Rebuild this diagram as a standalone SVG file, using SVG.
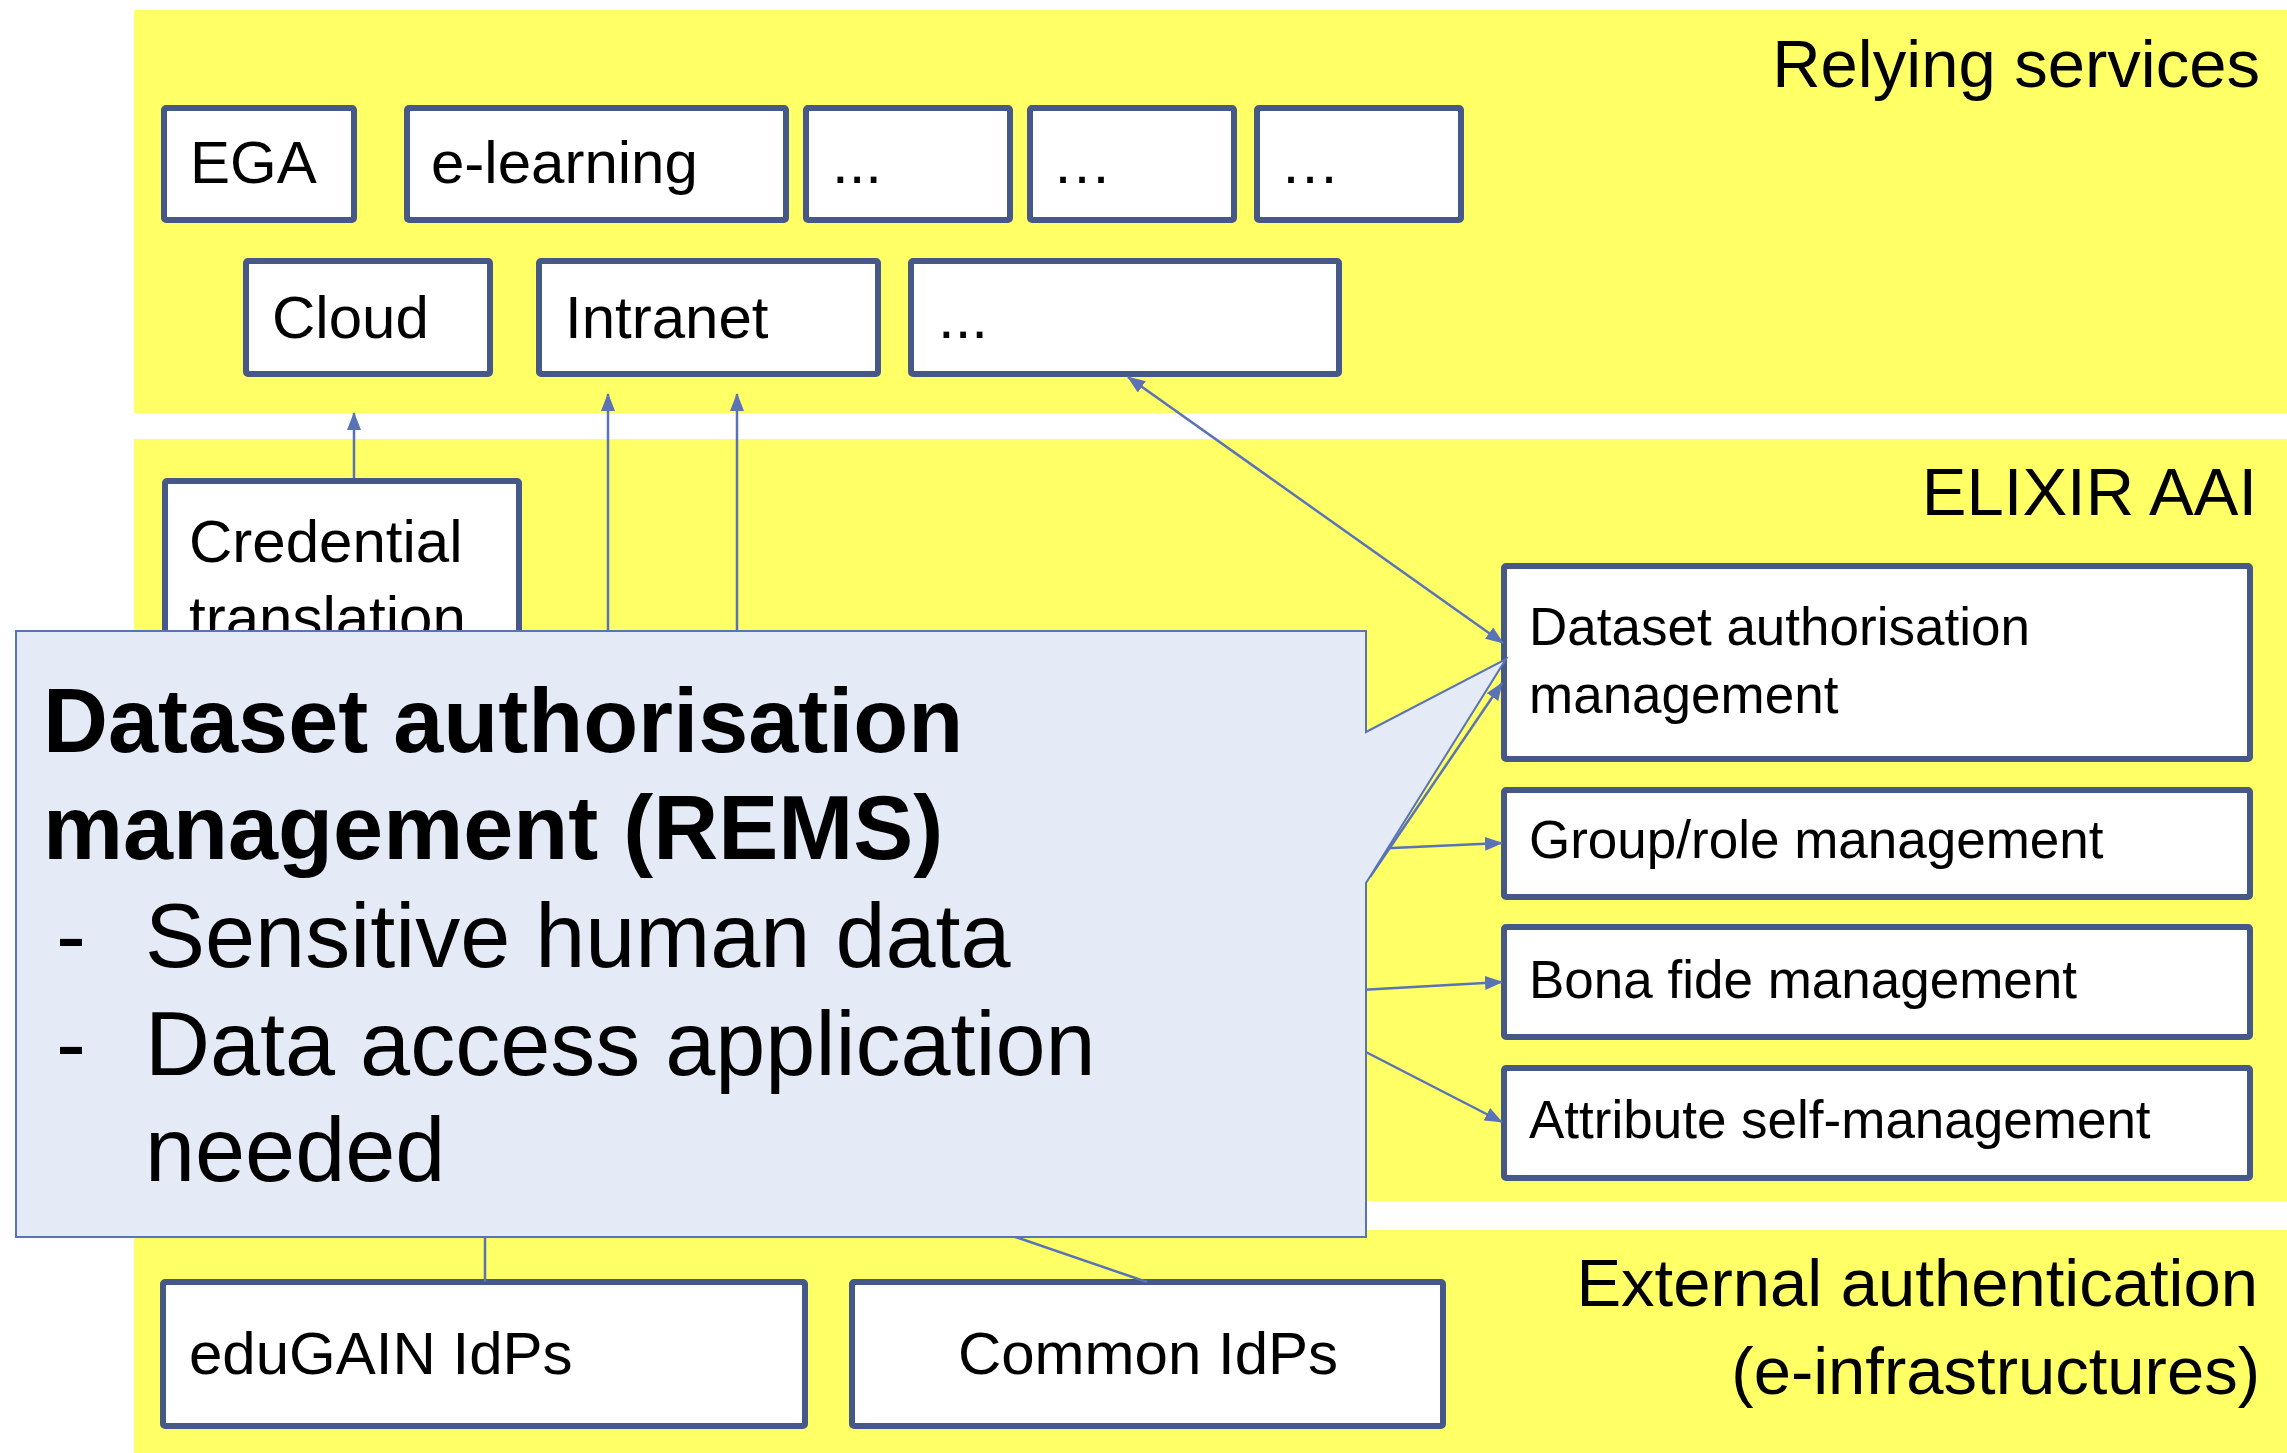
<svg xmlns="http://www.w3.org/2000/svg" width="2287" height="1453" viewBox="0 0 2287 1453">
<style>
.band{fill:#ffff66}
.box{fill:#ffffff;stroke:#465888;stroke-width:6}
.t{font-family:"Liberation Sans",Arial,sans-serif;fill:#000}
.t60{font-size:60px}
.t53{font-size:53px}
.t67{font-size:67px}
.conn{stroke:#5a73b7;stroke-width:2.5;fill:none}
.callout{fill:#e4eaf6;stroke:#5a73b7;stroke-width:2}
.cb{font-size:90px;font-weight:bold}
.cr{font-size:90px}
</style>
<defs>
<marker id="ah" markerUnits="userSpaceOnUse" markerWidth="18" markerHeight="14" refX="17" refY="7" orient="auto-start-reverse">
<path d="M0,0 L18,7 L0,14 z" fill="#5a73b7"/>
</marker>
</defs>
<rect width="2287" height="1453" fill="#ffffff"/>
<g id="layers">
<rect class="band" x="134" y="10" width="2153" height="403"/>
<rect class="band" x="134" y="439" width="2153" height="762"/>
<rect class="band" x="134" y="1230" width="2153" height="223"/>
<text class="t t67" x="2260" y="87" text-anchor="end">Relying services</text>
<text class="t t67" x="2257" y="515" text-anchor="end">ELIXIR AAI</text>
<text class="t t67" x="2258" y="1306" text-anchor="end">External authentication</text>
<text class="t t67" x="2260" y="1394" text-anchor="end">(e-infrastructures)</text>
</g>
<g id="ega"><rect class="box" x="164" y="108" width="190" height="112" rx="2"/><text class="t t60" x="190" y="183">EGA</text></g>
<g id="elearning"><rect class="box" x="407" y="108" width="379" height="112" rx="2"/><text class="t t60" x="431" y="183">e-learning</text></g>
<g id="rs-more1"><rect class="box" x="806" y="108" width="204" height="112" rx="2"/><text class="t t60" x="832" y="183">...</text></g>
<g id="rs-more2"><rect class="box" x="1030" y="108" width="204" height="112" rx="2"/><text class="t t60" x="1052" y="183">…</text></g>
<g id="rs-more3"><rect class="box" x="1257" y="108" width="204" height="112" rx="2"/><text class="t t60" x="1280" y="183">…</text></g>
<g id="cloud"><rect class="box" x="246" y="261" width="244" height="113" rx="2"/><text class="t t60" x="272" y="338">Cloud</text></g>
<g id="intranet"><rect class="box" x="539" y="261" width="339" height="113" rx="2"/><text class="t t60" x="565" y="338">Intranet</text></g>
<g id="rs-more4"><rect class="box" x="911" y="261" width="428" height="113" rx="2"/><text class="t t60" x="938" y="338">...</text></g>
<g id="credential"><rect class="box" x="165" y="481" width="354" height="230" rx="2"/><text class="t t60" x="189" y="562">Credential</text><text class="t t60" x="189" y="638">translation</text></g>
<g id="dam"><rect class="box" x="1504" y="566" width="746" height="193" rx="2"/><text class="t t53" x="1529" y="645">Dataset authorisation</text><text class="t t53" x="1529" y="713">management</text></g>
<g id="group"><rect class="box" x="1504" y="790" width="746" height="107" rx="2"/><text class="t t53" x="1529" y="858">Group/role management</text></g>
<g id="bonafide"><rect class="box" x="1504" y="927" width="746" height="110" rx="2"/><text class="t t53" x="1529" y="998">Bona fide management</text></g>
<g id="attribute"><rect class="box" x="1504" y="1068" width="746" height="110" rx="2"/><text class="t t53" x="1529" y="1138">Attribute self-management</text></g>
<g id="edugain"><rect class="box" x="163" y="1282" width="642" height="144" rx="2"/><text class="t t60" x="189" y="1374">eduGAIN IdPs</text></g>
<g id="common"><rect class="box" x="852" y="1282" width="591" height="144" rx="2"/><text class="t t60" x="1148" y="1374" text-anchor="middle">Common IdPs</text></g>
<g id="connectors">
<line class="conn" x1="354" y1="478" x2="354" y2="413" marker-end="url(#ah)"/>
<line class="conn" x1="608" y1="700" x2="608" y2="394" marker-end="url(#ah)"/>
<line class="conn" x1="737" y1="700" x2="737" y2="394" marker-end="url(#ah)"/>
<line class="conn" x1="1128" y1="377" x2="1503" y2="643" marker-start="url(#ah)" marker-end="url(#ah)"/>
<line class="conn" x1="1370" y1="877" x2="1502" y2="683" marker-end="url(#ah)"/>
<line class="conn" x1="1370" y1="849" x2="1502" y2="843" marker-end="url(#ah)"/>
<line class="conn" x1="1360" y1="990" x2="1502" y2="982" marker-end="url(#ah)"/>
<line class="conn" x1="1360" y1="1049" x2="1502" y2="1122" marker-end="url(#ah)"/>
<line class="conn" x1="485" y1="1230" x2="485" y2="1282"/>
<line class="conn" x1="998" y1="1231" x2="1147" y2="1282"/>
</g>
<g id="rems-callout">
<polygon class="callout" points="16,631 1366,631 1366,732 1506,659 1366,883 1366,1237 16,1237"/>
<text class="t cb" x="43" y="752">Dataset authorisation</text>
<text class="t cb" x="43" y="859">management (REMS)</text>
<text class="t cr" x="56" y="967">-</text>
<text class="t cr" x="145" y="967">Sensitive human data</text>
<text class="t cr" x="56" y="1075">-</text>
<text class="t cr" x="145" y="1075">Data access application</text>
<text class="t cr" x="145" y="1181">needed</text>
</g>
</svg>
